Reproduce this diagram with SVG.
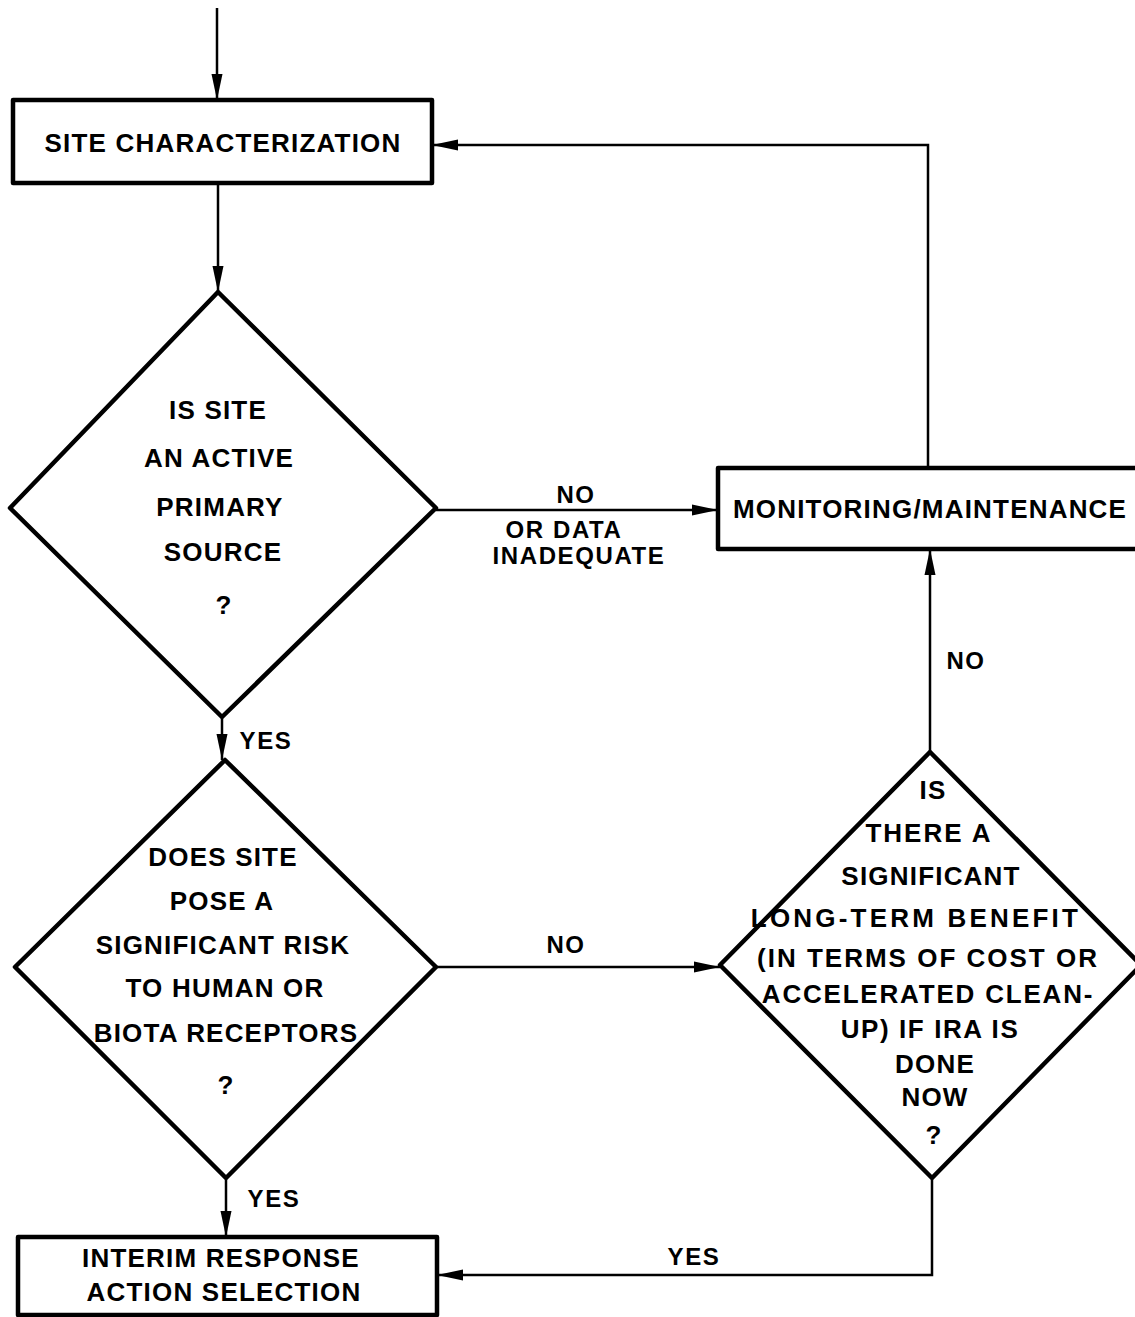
<svg xmlns="http://www.w3.org/2000/svg" width="1135" height="1317" viewBox="0 0 1135 1317">
<defs>
<marker id="ah" markerUnits="userSpaceOnUse" markerWidth="28" markerHeight="12" refX="26" refY="6" orient="auto">
<path d="M0,0.5 L26,6 L0,11.5 z" fill="#000"/>
</marker>
<style>
.box{fill:#fff;stroke:#000;stroke-width:4.5;stroke-linejoin:round}
.con{fill:none;stroke:#000;stroke-width:2.5}
text{font-family:"Liberation Sans",Arial,sans-serif;font-weight:bold;font-size:26px;letter-spacing:1.2px;text-anchor:middle;fill:#000}
.lbl{font-size:24px;letter-spacing:1.6px}
</style>
</defs>
<rect width="1135" height="1317" fill="#fff"/>
<g id="connectors">
<path class="con" d="M217,8 L217,100" marker-end="url(#ah)"/>
<path class="con" d="M218,183 L218,292" marker-end="url(#ah)"/>
<path class="con" d="M222,717 L222,760" marker-end="url(#ah)"/>
<path class="con" d="M226,1178 L226,1237" marker-end="url(#ah)"/>
<path class="con" d="M436,510 L718,510" marker-end="url(#ah)"/>
<path class="con" d="M436,967 L720,967" marker-end="url(#ah)"/>
<path class="con" d="M930,752 L930,549" marker-end="url(#ah)"/>
<path class="con" d="M928,468 L928,145 L432,145" marker-end="url(#ah)"/>
<path class="con" d="M932,1178 L932,1275 L437,1275" marker-end="url(#ah)"/>
<text class="lbl" x="576" y="503">NO</text>
<text class="lbl" x="564" y="538">OR DATA</text>
<text class="lbl" x="579" y="564">INADEQUATE</text>
<text class="lbl" x="266" y="749">YES</text>
<text class="lbl" x="566" y="953">NO</text>
<text class="lbl" x="274" y="1207">YES</text>
<text class="lbl" x="966" y="669">NO</text>
<text class="lbl" x="694" y="1265">YES</text>
</g>
<g id="site-characterization">
<rect class="box" x="13" y="100" width="419" height="83"/>
<text x="223" y="152">SITE CHARACTERIZATION</text>
</g>
<g id="active-source">
<path class="box" d="M218,292 L436,508 L222,717 L10,508 z"/>
<text x="218" y="419">IS SITE</text>
<text x="219" y="467">AN ACTIVE</text>
<text x="220" y="516">PRIMARY</text>
<text x="223" y="561">SOURCE</text>
<text x="224" y="614">?</text>
</g>
<g id="significant-risk">
<path class="box" d="M225,760 L436,967 L226,1178 L15,967 z"/>
<text x="223" y="866">DOES SITE</text>
<text x="222" y="910">POSE A</text>
<text x="223" y="954">SIGNIFICANT RISK</text>
<text x="225" y="997">TO HUMAN OR</text>
<text x="226" y="1042">BIOTA RECEPTORS</text>
<text x="226" y="1094">?</text>
</g>
<g id="monitoring">
<rect class="box" x="718" y="468" width="424" height="81"/>
<text x="930" y="518">MONITORING/MAINTENANCE</text>
</g>
<g id="long-term-benefit">
<path class="box" d="M930,752 L1141,965 L932,1178 L720,965 z"/>
<text x="933" y="799">IS</text>
<text x="929" y="842" style="letter-spacing:2px">THERE A</text>
<text x="931" y="885">SIGNIFICANT</text>
<text x="916" y="927" style="letter-spacing:3.2px">LONG-TERM BENEFIT</text>
<text x="928" y="967" style="letter-spacing:2px">(IN TERMS OF COST OR</text>
<text x="928" y="1003" style="letter-spacing:1.8px">ACCELERATED CLEAN-</text>
<text x="930" y="1038" style="letter-spacing:1.6px">UP) IF IRA IS</text>
<text x="935" y="1073">DONE</text>
<text x="935" y="1106">NOW</text>
<text x="934" y="1144">?</text>
</g>
<g id="interim-response">
<rect class="box" x="18" y="1237" width="419" height="78"/>
<text x="221" y="1267">INTERIM RESPONSE</text>
<text x="224" y="1301">ACTION SELECTION</text>
</g>
</svg>
